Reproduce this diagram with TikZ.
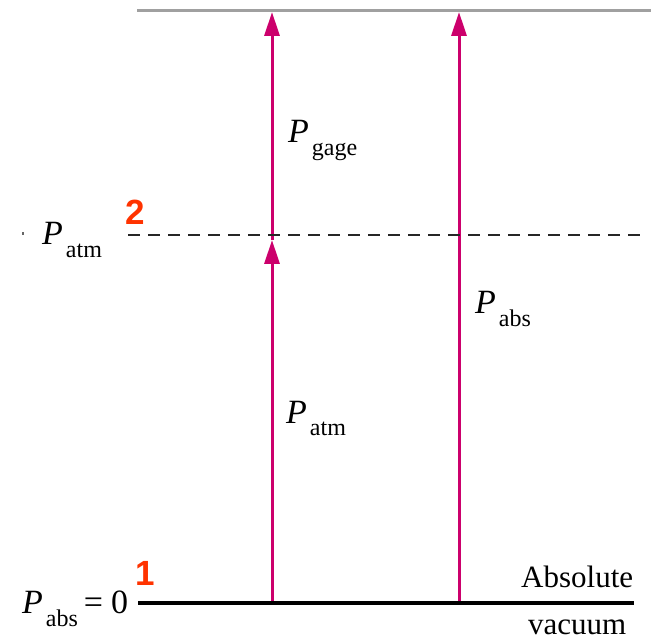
\documentclass[tikz,border=0pt]{standalone}
\usepackage{fontspec}
\setmainfont{Liberation Serif}
\newfontfamily\numfont{Liberation Sans}
\usetikzlibrary{arrows.meta}
\definecolor{arrowmag}{RGB}{204,0,108}
\definecolor{numred}{RGB}{255,51,0}
\definecolor{topgray}{RGB}{160,160,160}
\newcommand{\plabel}[1]{{\fontsize{34}{34}\selectfont\itshape P}\hspace{3pt}\raisebox{-13pt}{\fontsize{24}{24}\selectfont #1}}
\begin{document}
\begin{tikzpicture}[x=1pt,y=-1pt,
  lbl/.style={inner sep=0pt, anchor=base west},
  num/.style={inner sep=0pt, anchor=base west, font=\numfont\bfseries\fontsize{35}{35}\selectfont, text=numred},
  word/.style={inner sep=0pt, anchor=base west, font=\fontsize{31}{31}\selectfont},
  parrow/.style={draw=arrowmag, line width=3pt, -{Triangle[length=24pt,width=15pt]}},
  level/.style={line width=4pt, draw=black},
  atmline/.style={line width=2pt, draw=black!85, dash pattern=on 12pt off 8pt},
  topline/.style={line width=3pt, draw=topgray},
]
\useasboundingbox (0,0) rectangle (654,639);
% levels
\coordinate (topL) at (137,11);
\coordinate (topR) at (651,11);
\coordinate (dashL) at (128,235);
\coordinate (dashR) at (640,235);
\coordinate (botL) at (138,603);
\coordinate (botR) at (634,603);
% arrow ends
\coordinate (a1s) at (272,603);
\coordinate (a1e) at (272,240);
\coordinate (a2e) at (272,12);
\coordinate (a3s) at (459,603);
\coordinate (a3e) at (459,12);
% arrows
\draw[parrow] (a1s) -- (a1e);
\draw[parrow] (a1e) -- (a2e);
\draw[parrow] (a3s) -- (a3e);
% lines
\draw[topline] (topL) -- (topR);
\draw[atmline] (dashL) -- (dashR);
\draw[level] (botL) -- (botR);
% small dot
\fill[black!60] (22,232) rectangle (24,235);
% labels
\node[lbl] (patmL) at (42,245) {\plabel{atm}};
\node[lbl] (pgage) at (288,143) {\plabel{gage}};
\node[lbl] (patmM) at (286,423) {\plabel{atm}};
\node[lbl] (pabsR) at (475,314) {\plabel{abs}};
\node[lbl] (pabs0) at (22,613) {\plabel{abs}\hspace{6pt}{\fontsize{34}{34}\selectfont =\hspace{8pt}0}};
\node[num] (n2) at (125,225) {2};
\node[num] (n1) at (135,585) {1};
\node[word] (absw) at (521,587) {Absolute};
\node[word] (vacw) at (528,634) {vacuum};
\end{tikzpicture}
\end{document}
